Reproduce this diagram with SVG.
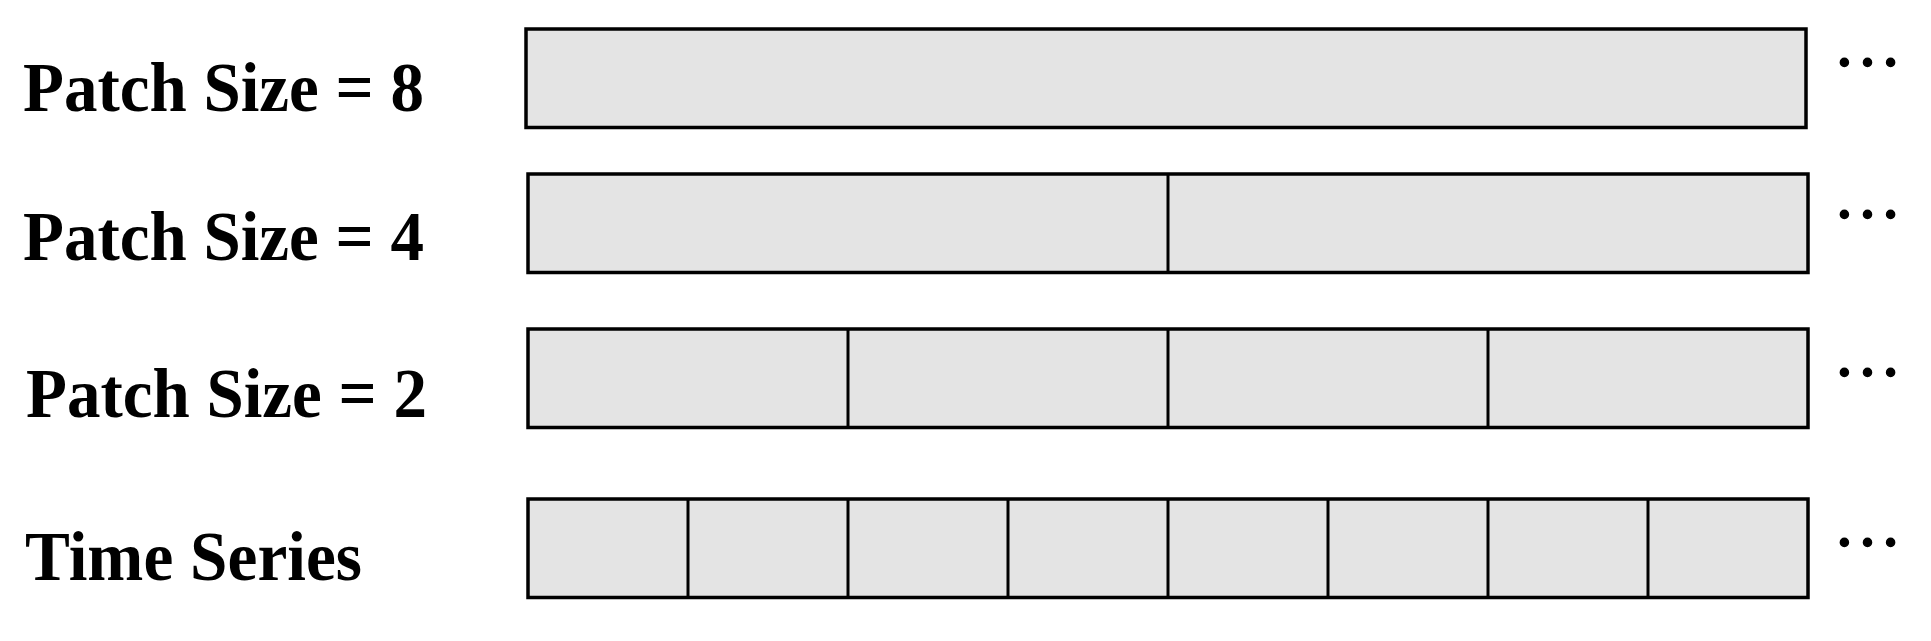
<svg xmlns="http://www.w3.org/2000/svg" width="1931" height="641" viewBox="0 0 1931 641">
<style>
.lbl{font-family:"Liberation Serif","Times New Roman",serif;font-weight:bold;font-size:70px;fill:#000}
.dots{font-family:"Liberation Serif","Times New Roman",serif;font-size:69px;fill:#000;stroke:#000;stroke-width:1.4}
.box{fill:#e4e4e4;stroke:#000;stroke-width:3.5}
.div{stroke:#000;stroke-width:3}
</style>
<rect width="1931" height="641" fill="#fff"/>
<g id="row-ps8">
<text class="lbl" x="23" y="111" textLength="401" lengthAdjust="spacingAndGlyphs">Patch Size = 8</text>
<rect class="box" x="526" y="29" width="1280" height="98.5"/>
<text class="dots" x="1833" y="66">…</text>
</g>
<g id="row-ps4">
<text class="lbl" x="23" y="260" textLength="401" lengthAdjust="spacingAndGlyphs">Patch Size = 4</text>
<rect class="box" x="528" y="174" width="1280" height="98.5"/>
<line class="div" x1="1168" y1="174" x2="1168" y2="272.5"/>
<text class="dots" x="1833" y="217.5">…</text>
</g>
<g id="row-ps2">
<text class="lbl" x="26" y="416.5" textLength="401" lengthAdjust="spacingAndGlyphs">Patch Size = 2</text>
<rect class="box" x="528" y="329" width="1280" height="98.5"/>
<line class="div" x1="848" y1="329" x2="848" y2="427.5"/>
<line class="div" x1="1168" y1="329" x2="1168" y2="427.5"/>
<line class="div" x1="1488" y1="329" x2="1488" y2="427.5"/>
<text class="dots" x="1833" y="376">…</text>
</g>
<g id="row-ts">
<text class="lbl" x="25" y="580" textLength="337" lengthAdjust="spacingAndGlyphs">Time Series</text>
<rect class="box" x="528" y="499" width="1280" height="98.5"/>
<line class="div" x1="688" y1="499" x2="688" y2="597.5"/>
<line class="div" x1="848" y1="499" x2="848" y2="597.5"/>
<line class="div" x1="1008" y1="499" x2="1008" y2="597.5"/>
<line class="div" x1="1168" y1="499" x2="1168" y2="597.5"/>
<line class="div" x1="1328" y1="499" x2="1328" y2="597.5"/>
<line class="div" x1="1488" y1="499" x2="1488" y2="597.5"/>
<line class="div" x1="1648" y1="499" x2="1648" y2="597.5"/>
<text class="dots" x="1833" y="546">…</text>
</g>
</svg>
